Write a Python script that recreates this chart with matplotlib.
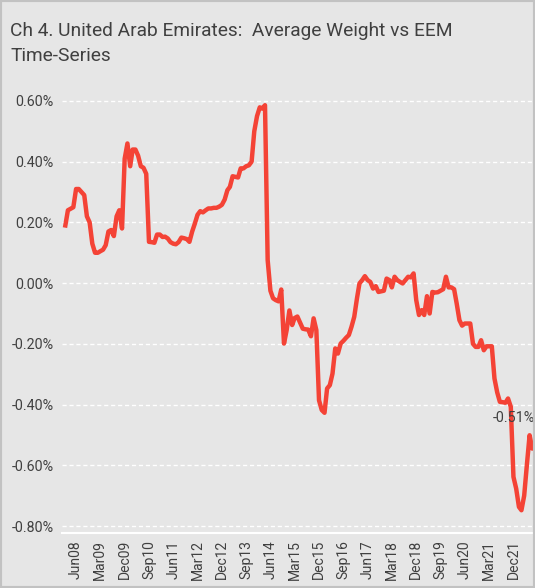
import matplotlib
matplotlib.use('Agg')
import matplotlib.pyplot as plt
import matplotlib.dates as mdates
from matplotlib.patches import Rectangle
import pandas as pd

plt.rcParams['font.family'] = ['Roboto', 'DejaVu Sans']

# monthly UAE average weight vs EEM (%), Feb 2008 onwards
start_month = '2008-02'
weight_diff = [
    0.19, 0.24, 0.245, 0.25, 0.31, 0.31, 0.30, 0.29, 0.22, 0.20,
    0.13, 0.10, 0.10, 0.105, 0.11, 0.125, 0.17, 0.175, 0.155, 0.22,
    0.24, 0.18, 0.41, 0.46, 0.385, 0.44, 0.44, 0.42, 0.385, 0.38,
    0.36, 0.136, 0.135, 0.133, 0.16, 0.16, 0.152, 0.153, 0.147, 0.135,
    0.13, 0.128, 0.135, 0.15, 0.148, 0.145, 0.136, 0.17, 0.197, 0.225,
    0.237, 0.233, 0.24, 0.246, 0.246, 0.248, 0.248, 0.252, 0.258, 0.275,
    0.306, 0.317, 0.352, 0.35, 0.348, 0.378, 0.378, 0.385, 0.388, 0.40,
    0.50, 0.55, 0.579, 0.575, 0.586, 0.076, -0.025, -0.05, -0.056, -0.06,
    -0.021, -0.199, -0.155, -0.09, -0.138, -0.115, -0.11, -0.13, -0.15, -0.152,
    -0.153, -0.175, -0.116, -0.155, -0.386, -0.418, -0.427, -0.347, -0.336, -0.298,
    -0.215, -0.232, -0.199, -0.19, -0.18, -0.171, -0.144, -0.111, -0.05, -0.001,
    0.01, 0.023, 0.01, 0.004, -0.018, -0.01, -0.029, -0.027, -0.025, 0.015,
    0.01, -0.014, 0.021, 0.01, 0.004, -0.001, 0.01, 0.021, 0.019, 0.032,
    -0.056, -0.105, -0.089, -0.105, -0.043, -0.1, -0.029, -0.031, -0.03, -0.025,
    -0.02, 0.021, -0.014, -0.014, -0.02, -0.067, -0.122, -0.14, -0.133, -0.133,
    -0.133, -0.2, -0.21, -0.21, -0.188, -0.221, -0.208, -0.208, -0.208, -0.314,
    -0.36, -0.391, -0.392, -0.394, -0.38, -0.407, -0.638, -0.677, -0.737, -0.748,
    -0.70, -0.60, -0.501, -0.545, -0.528, -0.51,
]
tick_labels = ['Jun08', 'Mar09', 'Dec09', 'Sep10', 'Jun11', 'Mar12', 'Dec12',
               'Sep13', 'Jun14', 'Mar15', 'Dec15', 'Sep16', 'Jun17', 'Mar18',
               'Dec18', 'Sep19', 'Jun20', 'Mar21', 'Dec21']
y_ticks = [0.6, 0.4, 0.2, 0.0, -0.2, -0.4, -0.6, -0.8]
last_label = '-0.51%'

bg = '#e6e6e6'
red = '#f44336'
txt = '#404040'

dates = pd.date_range(start_month, periods=len(weight_diff), freq='MS')
tick_dates = pd.to_datetime(tick_labels, format='%b%y')

fig = plt.figure(figsize=(5.35, 5.88), dpi=100, facecolor=bg)
fig.patches.append(Rectangle((0, 0), 1, 1, transform=fig.transFigure,
                             fill=False, edgecolor='#c2c2c2', lw=3))
ax = fig.add_axes([0.116, 0.0935, 0.884, 0.7534])
ax.set_facecolor(bg)

ax.plot(dates, weight_diff, color=red, lw=3.2, solid_joinstyle='round')

ax.set_ylim(-0.823, 0.636)
ax.set_xlim(pd.Timestamp('2007-12-26'), pd.Timestamp('2022-08-01'))
ax.set_yticks(y_ticks)
ax.set_yticklabels(['%.2f%%' % v for v in y_ticks], fontsize=10.3, color=txt)
ax.set_xticks(tick_dates)
ax.set_xticklabels(tick_labels, rotation=90, fontsize=10, color=txt)
ax.tick_params(length=0, pad=6)
ax.tick_params(axis='x', pad=5)

ax.grid(axis='y', color='white', ls='--', lw=1, dashes=(3, 2))
for s in ['top', 'right', 'left']:
    ax.spines[s].set_visible(False)
ax.spines['bottom'].set_color('white')
ax.spines['bottom'].set_linestyle((0, (1, 1)))
ax.spines['bottom'].set_linewidth(1.5)

ax.text(pd.Timestamp('2022-08-01'), -0.445, last_label, ha='right', va='center',
        fontsize=10.3, color=txt)

fig.text(0.019, 0.962, 'Ch 4. United Arab Emirates:  Average Weight vs EEM\nTime-Series',
         ha='left', va='top', fontsize=13.8, color=txt, linespacing=1.45)

fig.savefig('out.png', dpi=100, facecolor=bg)
